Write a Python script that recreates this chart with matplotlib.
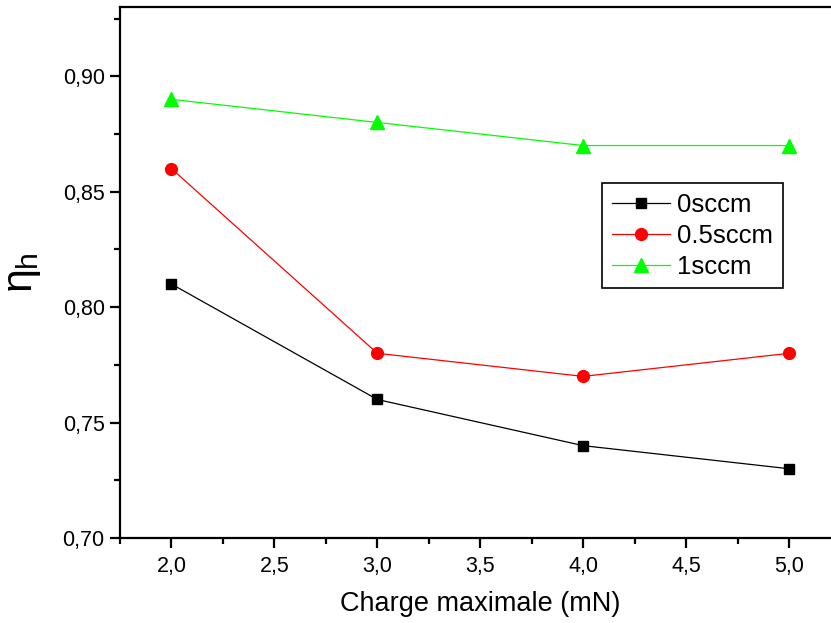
import matplotlib
matplotlib.use("Agg")
import matplotlib.pyplot as plt
from matplotlib.ticker import MultipleLocator, FuncFormatter

plt.rcParams['font.family'] = ['Liberation Sans', 'DejaVu Sans']
plt.rcParams['mathtext.fontset'] = 'custom'
plt.rcParams['mathtext.rm'] = 'Liberation Sans'
plt.rcParams['mathtext.it'] = 'Liberation Sans'

charge = [2.0, 3.0, 4.0, 5.0]
s0 = [0.81, 0.76, 0.74, 0.73]
s05 = [0.86, 0.78, 0.77, 0.78]
s1 = [0.89, 0.88, 0.87, 0.87]
labels = ['0sccm', '0.5sccm', '1sccm']

W, H = 831, 623
fig = plt.figure(figsize=(W / 100, H / 100), dpi=100)
left, right, top, bottom = 120, 840.5, 7, 538
ax = fig.add_axes([left / W, 1 - bottom / H, (right - left) / W, (bottom - top) / H])

ax.plot(charge, s0, color='black', lw=0.9, marker='s', ms=7.5, label=labels[0])
ax.plot(charge, s05, color='red', lw=0.9, marker='o', ms=8.5, label=labels[1])
ax.plot(charge, s1, color='#00ff00', lw=0.9, marker='^', ms=9.5, label=labels[2])

ax.set_xlim(1.75, 5.25)
ax.set_ylim(0.70, 0.93)
ax.xaxis.set_major_locator(MultipleLocator(0.5))
ax.xaxis.set_minor_locator(MultipleLocator(0.25))
ax.yaxis.set_major_locator(MultipleLocator(0.05))
ax.yaxis.set_minor_locator(MultipleLocator(0.025))
ax.xaxis.set_major_formatter(FuncFormatter(lambda v, p: f"{v:.1f}".replace('.', ',')))
ax.yaxis.set_major_formatter(FuncFormatter(lambda v, p: f"{v:.2f}".replace('.', ',')))

for s in ax.spines.values():
    s.set_linewidth(1.6)
ax.spines['right'].set_visible(False)

ax.tick_params(axis='both', which='major', direction='out', length=7, width=1.6, labelsize=15.5)
ax.tick_params(axis='both', which='minor', direction='out', length=4, width=1.6)
ax.tick_params(axis='x', which='both', top=False)
ax.tick_params(axis='x', which='major', pad=6)
ax.tick_params(axis='y', which='major', pad=4)

ax.set_xlabel('Charge maximale (mN)', fontsize=19.5, labelpad=10)
ax.set_ylabel(r'$\eta_h$', fontsize=31, labelpad=14)

leg = ax.legend(loc='upper left', bbox_to_anchor=((602 - left) / (right - left), 1 - (183 - top) / (bottom - top)),
                fontsize=18.5, frameon=True, fancybox=False, edgecolor='black', framealpha=1,
                handlelength=2.25, handletextpad=0.3, borderpad=0.38, labelspacing=0.27, borderaxespad=0)
leg.get_frame().set_linewidth(1.2)

fig.savefig('out.png', dpi=100)
